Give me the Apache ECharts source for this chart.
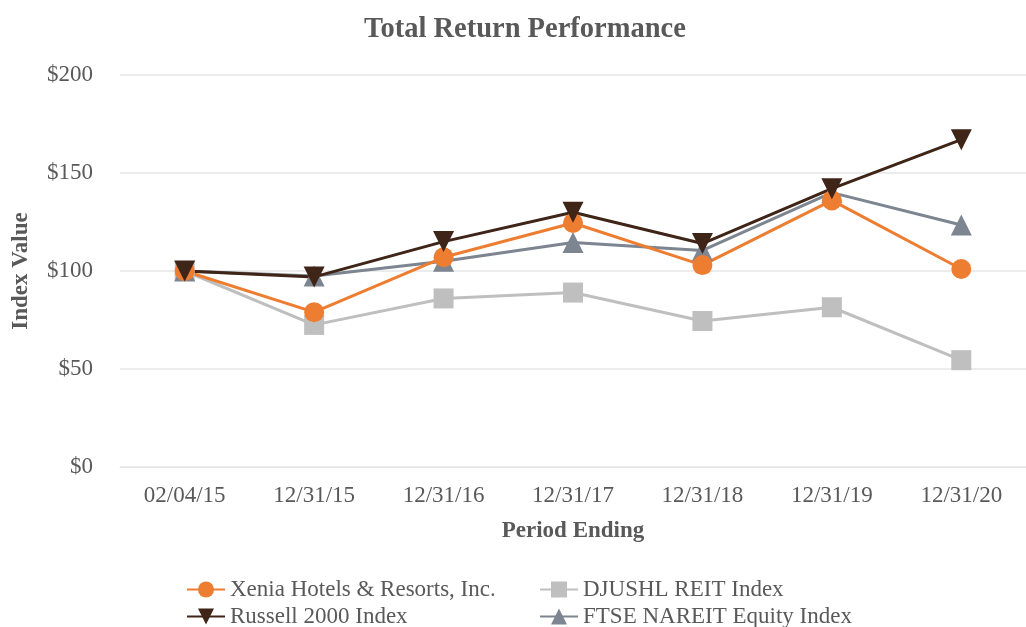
<!DOCTYPE html>
<html><head><meta charset="utf-8">
<script src="https://cdn.jsdelivr.net/npm/echarts@6/dist/echarts.min.js"></script>
<style>html,body{margin:0;padding:0;background:#fff}#c{width:1026px;height:627px}</style>
</head><body><div id="c"></div>
<script>
const categories = ['02/04/15','12/31/15','12/31/16','12/31/17','12/31/18','12/31/19','12/31/20'];
const xenia = [100, 79, 107, 124.5, 103, 136, 101];
const russell = [100, 97, 115, 130, 114, 142, 167];
const djushl = [100, 72.5, 86, 89, 74.5, 81.5, 54.5];
const ftse = [100, 97.5, 105, 114.5, 110.5, 140, 123.5];
const yTicks = [0, 50, 100, 150, 200];
const names = ['Xenia Hotels & Resorts, Inc.', 'Russell 2000 Index', 'DJUSHL REIT Index', 'FTSE NAREIT Equity Index'];

const font = 'Liberation Serif';
const txt = '#595959';
const chart = echarts.init(document.getElementById('c'));
function s(name, data, color, symbol, size, extra) {
  return Object.assign({
    name, type: 'line', data, symbol, symbolSize: size,
    lineStyle: { color, width: 3 }, itemStyle: { color },
    emphasis: { disabled: true }, animation: false
  }, extra || {});
}
function lg(name, left, top) {
  return { data: [name], left, top, itemWidth: 38, itemHeight: 20, itemGap: 0,
    textStyle: { fontFamily: font, fontSize: 23, color: txt } };
}
chart.setOption({
  animation: false,
  title: { text: 'Total Return Performance', left: 359, top: 10,
    textStyle: { fontFamily: font, fontSize: 28.5, fontWeight: 'bold', color: txt } },
  grid: { left: 120, right: -10, top: 75, bottom: 160 },
  xAxis: {
    type: 'category', data: categories, boundaryGap: true,
    name: 'Period Ending', nameLocation: 'middle', nameGap: 53,
    nameTextStyle: { fontFamily: font, fontSize: 23, fontWeight: 'bold', color: txt },
    axisLine: { show: true, lineStyle: { color: '#e6e6e6' } }, axisTick: { show: false },
    axisLabel: { fontFamily: font, fontSize: 23, color: txt, margin: 17 }
  },
  yAxis: {
    type: 'value', min: yTicks[0], max: yTicks[yTicks.length - 1], interval: 50,
    name: 'Index Value', nameLocation: 'middle', nameGap: 87,
    nameTextStyle: { fontFamily: font, fontSize: 23, fontWeight: 'bold', color: txt },
    axisLine: { show: false }, axisTick: { show: false },
    splitLine: { lineStyle: { color: '#e6e6e6', width: 1.5 } },
    axisLabel: { fontFamily: font, fontSize: 23, color: txt, margin: 27, formatter: v => '$' + v }
  },
  legend: [
    lg(names[0], 181, 573), lg(names[1], 181, 600),
    lg(names[2], 534, 573), lg(names[3], 534, 600)
  ],
  series: [
    s(names[2], djushl, '#BFBFBF', 'rect', 20),
    s(names[3], ftse, '#7D8590', 'triangle', 21),
    s(names[0], xenia, '#ED7D31', 'circle', 20),
    s(names[1], russell, '#3F2418', 'triangle', 21, { symbolRotate: 180 })
  ]
});
</script></body></html>
